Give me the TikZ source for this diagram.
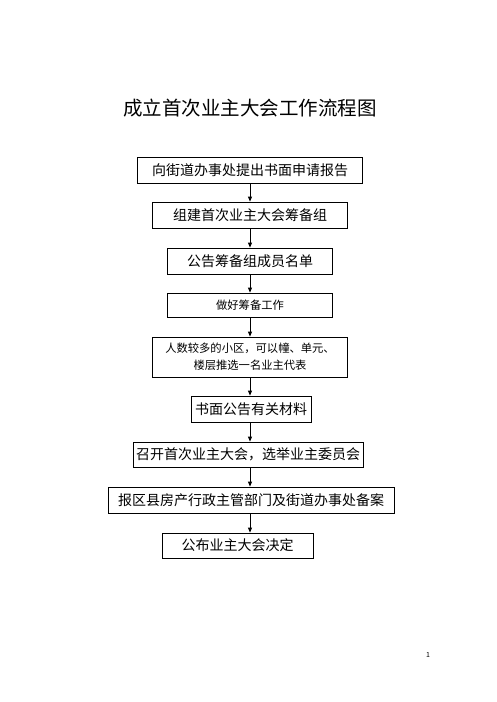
\documentclass[tikz,border=0pt]{standalone}
\usepackage{fontspec}
\setmainfont{Noto Sans CJK SC}
\usetikzlibrary{arrows.meta}
\begin{document}
\begin{tikzpicture}[x=1pt,y=-1pt,
  stage/.style={draw,line width=0.8pt,inner sep=0pt,align=center,font=\fontsize{14}{16}\selectfont},
  small/.style={font=\fontsize{11.3}{17}\selectfont},
  >={Triangle[length=5pt,width=4pt]}]
  \useasboundingbox (0,0) rectangle (496,702);
  \node (title) at (250,108) {\fontsize{19.5}{22}\selectfont 成立首次业主大会工作流程图};
  % boxes, top to bottom
  \node[stage,minimum width=225,minimum height=26] (s1) at (250,170) {向街道办事处提出书面申请报告};
  \node[stage,minimum width=195,minimum height=26] (s2) at (250,215) {组建首次业主大会筹备组};
  \node[stage,minimum width=165,minimum height=26] (s3) at (250,261) {公告筹备组成员名单};
  \node[stage,small,minimum width=165,minimum height=24] (s4) at (250,305) {做好筹备工作};
  \node[stage,small,minimum width=195,minimum height=40] (s5) at (250,357) {人数较多的小区，可以幢、单元、\\楼层推选一名业主代表};
  \node[stage,minimum width=120,minimum height=26] (s6) at (251,409) {书面公告有关材料};
  \node[stage,minimum width=230,minimum height=25] (s7) at (248,454.5) {召开首次业主大会，选举业主委员会};
  \node[stage,minimum width=286,minimum height=26] (s8) at (251,500) {报区县房产行政主管部门及街道办事处备案};
  \node[stage,minimum width=151,minimum height=25] (s9) at (237.5,545.5) {公布业主大会决定};
  \foreach \a/\b in {s1/s2, s2/s3, s3/s4, s4/s5, s5/s6, s6/s7, s7/s8, s8/s9}
    \draw[->,line width=0.8pt] (\a.south -| s1) -- (\b.north -| s1);
  \node[font=\fontsize{7}{8}\selectfont] (page) at (428,655) {1};
\end{tikzpicture}
\end{document}
